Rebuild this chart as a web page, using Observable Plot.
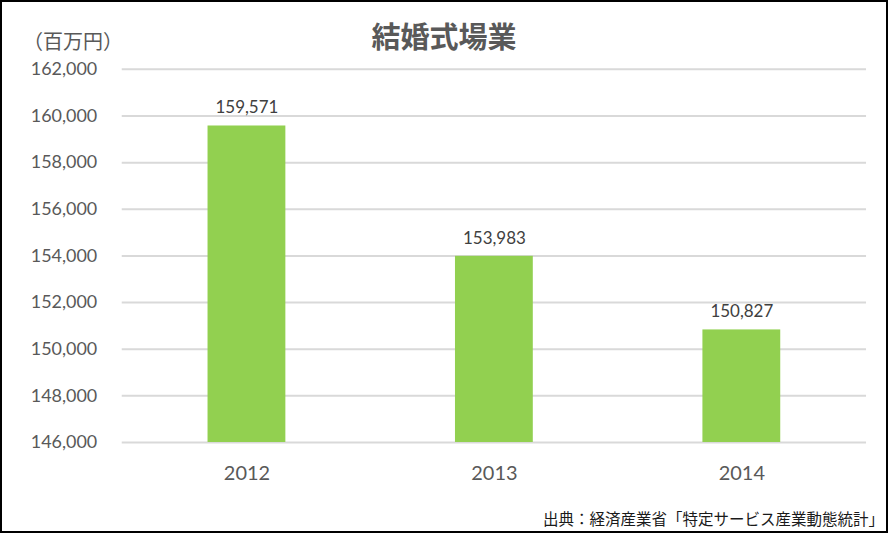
<!DOCTYPE html>
<html>
<head>
<meta charset="utf-8">
<script src="https://cdn.jsdelivr.net/npm/d3@7"></script>
<script src="https://cdn.jsdelivr.net/npm/@observablehq/plot@0.6"></script>
<style>
  html, body { margin: 0; padding: 0; background: #fff; }
  #frame { position: relative; width: 888px; height: 533px; box-sizing: border-box; border: 2px solid #000; overflow: hidden; }
  #chart { position: absolute; left: -2px; top: -2px; }
  .title { position: absolute; left: 0; width: 884px; top: 19px; text-align: center; font-family: "Noto Sans CJK JP", sans-serif; font-weight: bold; font-size: 29px; color: #595959; line-height: 1; }
  .unit { position: absolute; left: 21px; top: 29px; font-family: "Noto Sans CJK JP", sans-serif; font-size: 20px; color: #595959; line-height: 1; }
  .caption { position: absolute; right: 2px; top: 509px; font-family: "Noto Sans CJK JP", sans-serif; font-size: 15.5px; color: #1a1a1a; line-height: 1; }
</style>
</head>
<body>
<div id="frame">
  <div id="chart"></div>
  <div class="title">結婚式場業</div>
  <div class="unit">（百万円）</div>
  <div class="caption">出典：経済産業省「特定サービス産業動態統計」</div>
</div>
<script>
const years = ["2012", "2013", "2014"];
const sales = [159571, 153983, 150827];
const yTicks = [146000, 148000, 150000, 152000, 154000, 156000, 158000, 160000, 162000];

const data = years.map((y, i) => ({year: y, value: sales[i]}));
const yMin = yTicks[0];
const fmt = d3.format(",");

const chart = Plot.plot({
  width: 888,
  height: 533,
  marginLeft: 122,
  marginRight: 20,
  marginTop: 69,
  marginBottom: 90,
  style: { fontFamily: "Lato, sans-serif", color: "#595959", background: "transparent" },
  x: { domain: years, paddingInner: 0.686, paddingOuter: 0.342, label: null },
  y: { domain: [yTicks[0], yTicks[yTicks.length - 1]], label: null },
  marks: [
    Plot.ruleY(yTicks, { stroke: "#d9d9d9", strokeWidth: 2 }),
    Plot.barY(data, { x: "year", y1: () => yMin, y2: "value", fill: "#92d050" }),
    Plot.text(data, { x: "year", y: "value", text: d => fmt(d.value), dy: -18, fontSize: 17, fill: "#404040" }),
    Plot.axisY({ ticks: yTicks, tickFormat: fmt, tickSize: 0, tickPadding: 25, fontSize: 18, fill: "#595959" }),
    Plot.axisX({ tickSize: 0, tickPadding: 23, fontSize: 20, fill: "#595959" })
  ]
});
document.getElementById("chart").appendChild(chart);
</script>
</body>
</html>
